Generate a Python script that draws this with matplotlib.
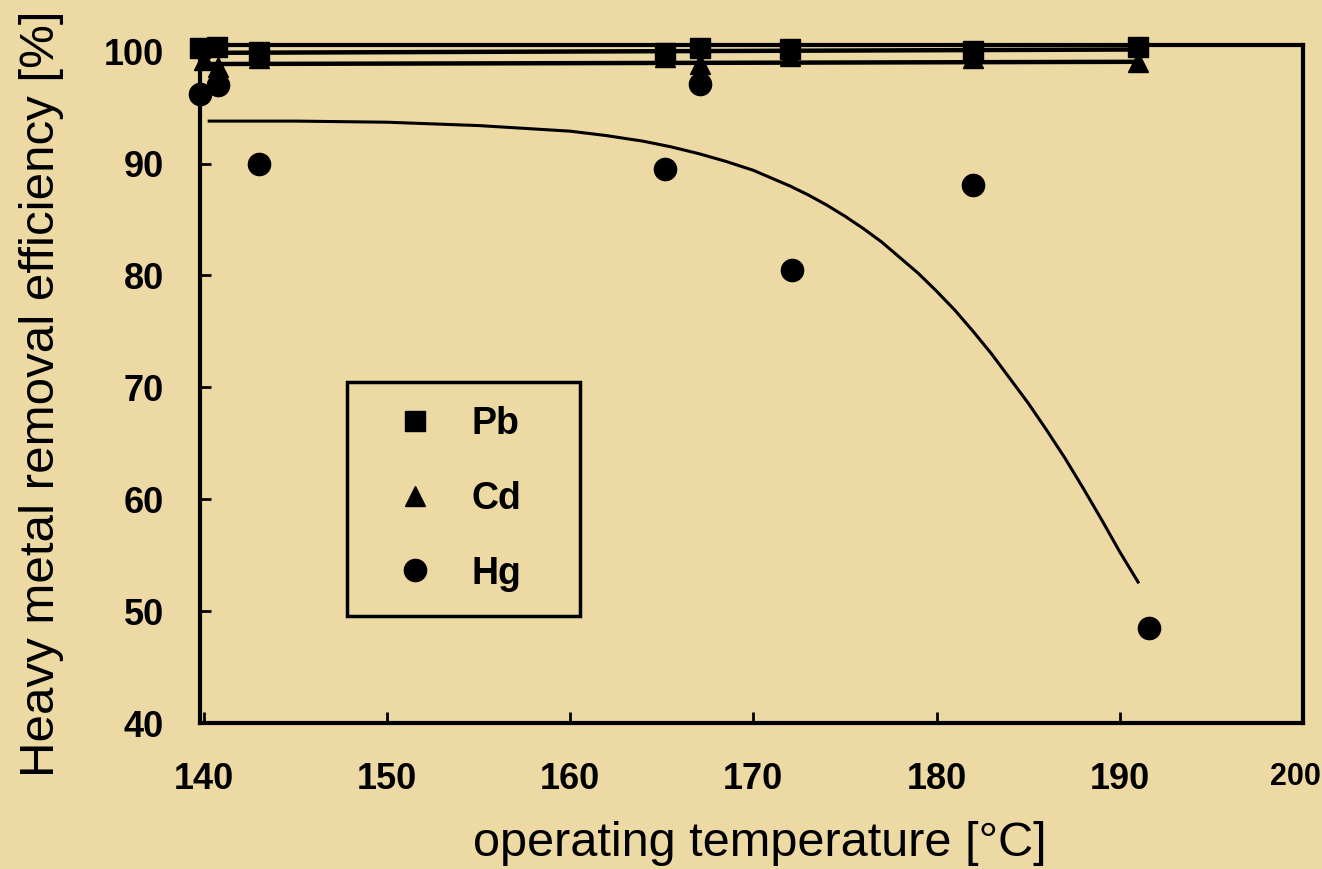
import matplotlib
matplotlib.use('Agg')
import matplotlib.pyplot as plt
from matplotlib.transforms import ScaledTranslation

plt.rcParams['font.family'] = ['Liberation Sans', 'DejaVu Sans']

# measured points
pb_x = [139.8, 140.7, 143.0, 165.2, 167.1, 172.0, 182.0, 191.0]
pb_y = [100.3, 100.4, 100.0, 99.9, 100.3, 100.2, 100.1, 100.4]

cd_x = [140.0, 140.8, 143.0, 165.2, 167.1, 172.0, 182.0, 191.0]
cd_y = [99.3, 98.6, 99.4, 99.5, 98.9, 99.6, 99.4, 99.1]

hg_x = [139.8, 140.8, 143.0, 165.2, 167.1, 172.1, 182.0, 191.6]
hg_y = [96.2, 97.0, 90.0, 89.5, 97.1, 80.5, 88.1, 48.5]

# fitted lines
pb_fit_x = [140.0, 191.0]
pb_fit_y = [99.9, 100.2]
cd_fit_x = [140.0, 191.0]
cd_fit_y = [98.9, 99.1]

hg_fit_x = [140.3, 145, 150, 155, 160, 162, 164, 165.5, 167, 168.5, 170, 171,
            172, 173, 174, 175, 176, 177, 178, 179, 180, 181, 182, 183, 184,
            185, 186, 187, 188, 189, 190, 191]
hg_fit_y = [93.8, 93.8, 93.7, 93.4, 92.9, 92.5, 92.0, 91.5, 90.9, 90.2, 89.4,
            88.7, 88.0, 87.2, 86.3, 85.3, 84.2, 83.0, 81.6, 80.2, 78.6, 76.9,
            75.0, 73.0, 70.8, 68.6, 66.2, 63.7, 61.0, 58.2, 55.3, 52.6]

x_ticks = [140, 150, 160, 170, 180, 190, 200]
y_ticks = [40, 50, 60, 70, 80, 90, 100]

bg = '#EDD9A3'
fig = plt.figure(figsize=(13.22, 8.69), dpi=100, facecolor=bg)
ax = fig.add_axes([0.1513, 0.168, 0.8343, 0.7802])
ax.set_facecolor(bg)

ax.plot(pb_fit_x, pb_fit_y, color='black', lw=3.2, clip_on=False)
ax.plot(cd_fit_x, cd_fit_y, color='black', lw=3.2, clip_on=False)
ax.plot(hg_fit_x, hg_fit_y, color='black', lw=2.2)

ax.plot(pb_x, pb_y, 's', color='black', ms=15, ls='none', clip_on=False, label='Pb')
ax.plot(cd_x, cd_y, '^', color='black', ms=15, ls='none', clip_on=False, label='Cd')
ax.plot(hg_x, hg_y, 'o', color='black', ms=16, ls='none', clip_on=False, label='Hg')

ax.set_xlim(139.8, 199.0)
ax.set_ylim(40, 100.6)
ax.set_xticks(x_ticks)
ax.set_yticks(y_ticks)
ax.tick_params(direction='in', length=8, width=2, labelsize=26, colors='black')
ax.tick_params(axis='x', pad=28)
ax.tick_params(axis='y', pad=26)
for lab in ax.get_xticklabels() + ax.get_yticklabels():
    lab.set_fontweight('bold')

# last x label is squeezed against the figure edge
last = ax.xaxis.get_major_ticks()[-1].label1
last.set_fontsize(22)
last.set_transform(last.get_transform() + ScaledTranslation(-8 / 100, 0, fig.dpi_scale_trans))

for s in ax.spines.values():
    s.set_linewidth(3)
    s.set_color('black')

leg = ax.legend(loc='upper left', bbox_to_anchor=(0.1333, 0.159, 0.2112, 0.344),
                mode='expand', borderaxespad=0,
                prop={'weight': 'bold', 'size': 27},
                frameon=True, fancybox=False, edgecolor='black', facecolor=bg,
                borderpad=0.65, labelspacing=1.03, handlelength=2.35,
                handletextpad=0.33, numpoints=1, markerscale=1.0)
leg.get_frame().set_linewidth(2.5)
leg.get_frame().set_alpha(1)

fig.text(42 / 1322, 1 - 394 / 869, 'Heavy metal removal efficiency [%]',
         rotation=90, ha='center', va='center', fontsize=35.5)
fig.text(760 / 1322, 1 - 843 / 869, 'operating temperature [°C]',
         ha='center', va='center', fontsize=35)

fig.savefig('out.png', dpi=100, facecolor=bg)
